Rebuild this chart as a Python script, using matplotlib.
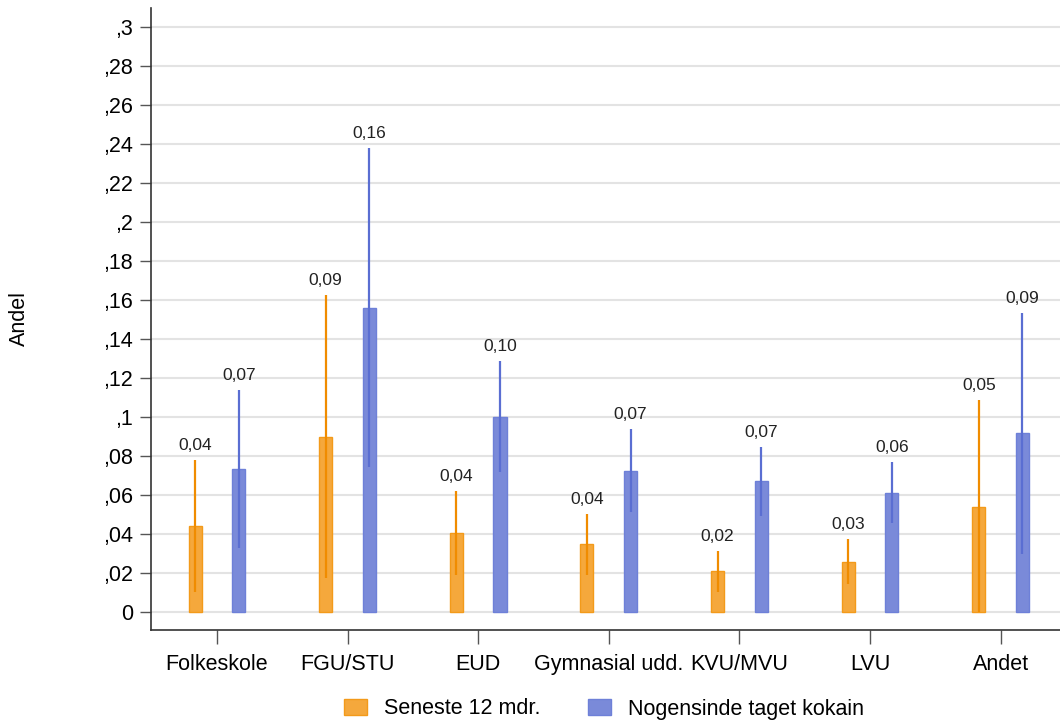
import matplotlib
matplotlib.use("Agg")
import matplotlib.pyplot as plt
import numpy as np
from matplotlib.patches import Patch

plt.rcParams['font.family'] = ['Liberation Sans', 'DejaVu Sans']

categories = ["Folkeskole", "FGU/STU", "EUD", "Gymnasial udd.", "KVU/MVU", "LVU", "Andet"]
series_names = ["Seneste 12 mdr.", "Nogensinde taget kokain"]

seneste = [0.044, 0.090, 0.0405, 0.035, 0.021, 0.0256, 0.054]
seneste_lo = [0.0105, 0.0176, 0.019, 0.019, 0.0104, 0.0144, 0.0]
seneste_hi = [0.078, 0.1626, 0.062, 0.0503, 0.0314, 0.0374, 0.1087]

nogensinde = [0.0733, 0.156, 0.100, 0.0723, 0.0672, 0.061, 0.0918]
nogensinde_lo = [0.0328, 0.0745, 0.0718, 0.0513, 0.0492, 0.0456, 0.0297]
nogensinde_hi = [0.1138, 0.238, 0.1287, 0.0938, 0.0848, 0.0769, 0.1533]

yticks = [0, 0.02, 0.04, 0.06, 0.08, 0.10, 0.12, 0.14, 0.16, 0.18, 0.20, 0.22, 0.24, 0.26, 0.28, 0.30]
ytick_labels = ["0", ",02", ",04", ",06", ",08", ",1", ",12", ",14", ",16", ",18", ",2", ",22", ",24", ",26", ",28", ",3"]

fig = plt.figure(figsize=(10.6, 7.22), dpi=100)
ax = fig.add_axes([151/1060, (722-630)/722, 1 - 151/1060, (630-8)/722])

x = np.arange(len(categories))
off = 0.167
w = 0.1

styles = [
    dict(fill="#F5A83C", edge="#F39A1A", line="#F08C00", vals=seneste, lo=seneste_lo, hi=seneste_hi, pos=x - off),
    dict(fill="#7A8AD9", edge="#6E80D8", line="#5A6ED2", vals=nogensinde, lo=nogensinde_lo, hi=nogensinde_hi, pos=x + off),
]

for s in styles:
    ax.bar(s["pos"], s["vals"], width=w, color=s["fill"], edgecolor=s["edge"], linewidth=1.0, zorder=3)
    ax.vlines(s["pos"], s["lo"], s["hi"], color=s["line"], linewidth=1.6, zorder=4)
    for p, v, h in zip(s["pos"], s["vals"], s["hi"]):
        ax.annotate(f"{v:.2f}".replace(".", ","), (p, h), xytext=(0, 5), textcoords="offset points",
                    ha="center", va="bottom", fontsize=12.5, color="#222222", zorder=5)

ax.set_ylim(-0.0092, 0.3097)
ax.set_xlim(-0.505, 6.455)
ax.set_yticks(yticks)
ax.set_yticklabels(ytick_labels)
ax.set_xticks(x)
ax.set_xticklabels(categories)
ax.tick_params(axis="y", length=8, width=1, color="#555555", labelsize=15.5, pad=5)
ax.tick_params(axis="x", length=10, width=1, color="#555555", labelsize=15.5, pad=7)
ax.grid(axis="y", color="#E3E3E3", linewidth=1.5, zorder=0)
ax.set_axisbelow(True)
for side in ["top", "right"]:
    ax.spines[side].set_visible(False)
for side in ["left", "bottom"]:
    ax.spines[side].set_color("#333333")
    ax.spines[side].set_linewidth(1.2)

ax.set_ylabel("Andel", fontsize=15.5, va="center", ha="center")
ax.yaxis.set_label_coords(-(151 - 19) / 909, 0.5)

handles = [Patch(facecolor=styles[0]["fill"], edgecolor=styles[0]["edge"]),
           Patch(facecolor=styles[1]["fill"], edgecolor=styles[1]["edge"])]
fig.legend(handles, series_names, loc="center", bbox_to_anchor=(604/1060, 1 - 709/722), ncol=2,
           frameon=False, fontsize=15.5, handlelength=1.05, handleheight=0.8, columnspacing=2.2, handletextpad=0.8)

fig.savefig("out.png", dpi=100)
